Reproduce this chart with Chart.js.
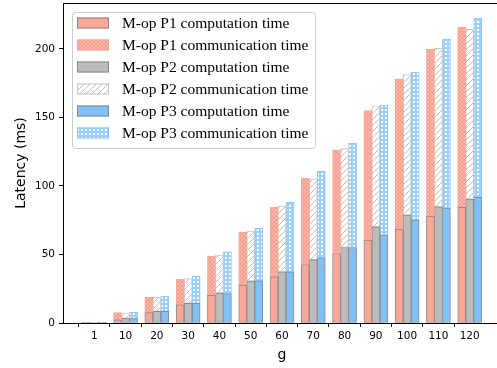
<!DOCTYPE html>
<html>
<head>
<meta charset="utf-8">
<script src="https://cdn.jsdelivr.net/npm/chart.js@4.4.1/dist/chart.umd.min.js"></script>
<style>
  html, body { margin: 0; padding: 0; background: #fff; overflow: hidden; }
  /* plot runs slightly past the right edge, as in the cropped reference */
  #wrap { width: 501px; height: 368px; }
</style>
</head>
<body>
<div id="wrap"><canvas id="latencyChart"></canvas></div>
<script>
// --- data (ms) ---
const gValues = ['1', '10', '20', '30', '40', '50', '60', '70', '80', '90', '100', '110', '120'];
const p1Comp = [0.3, 2.4, 7.6, 13.2, 20.2, 27.6, 33.6, 42.7, 50.7, 60.5, 68.5, 78.0, 84.4];
const p1Comm = [0.3, 5.2, 11.1, 18.9, 28.6, 38.7, 50.8, 63.1, 75.5, 94.5, 109.4, 121.7, 131.6];
const p2Comp = [0.2, 3.4, 8.5, 14.3, 21.9, 30.5, 37.3, 46.3, 55.1, 70.2, 78.7, 84.8, 90.4];
const p2Comm = [0.2, 4.0, 10.2, 18.1, 27.6, 36.5, 48.0, 58.7, 72.1, 88.2, 102.6, 115.7, 123.8];
const p3Comp = [0.3, 3.2, 8.5, 14.3, 21.5, 30.7, 37.3, 47.5, 55.1, 64.1, 75.1, 83.8, 91.7];
const p3Comm = [0.4, 4.8, 11.0, 19.7, 30.4, 38.3, 50.7, 63.2, 76.0, 95.0, 107.9, 123.4, 130.8];
const yTicks = [0, 50, 100, 150, 200];

// empty slot on each side of the categories (like the reference axis)
const labels = [''].concat(gValues, ['']);
const pad = arr => [null].concat(arr, [null]);

// --- hatch patterns ---
function makePattern(size, draw) {
    const c = document.createElement('canvas');
    c.width = size; c.height = size;
    const g = c.getContext('2d');
    draw(g, size);
    return g.createPattern(c, 'repeat');
}
const ctx = document.getElementById('latencyChart').getContext('2d');

const crossSalmon = makePattern(4, (g, s) => {
    g.fillStyle = '#fff'; g.fillRect(0, 0, s, s);
    g.strokeStyle = '#f99c8b'; g.lineWidth = 1.7;
    g.beginPath();
    g.moveTo(0, 0); g.lineTo(s, s);
    g.moveTo(s, 0); g.lineTo(0, s);
    g.stroke();
});
const diagGray = makePattern(6, (g, s) => {
    g.fillStyle = '#fff'; g.fillRect(0, 0, s, s);
    g.strokeStyle = '#bdbdbd'; g.lineWidth = 1;
    g.beginPath();
    g.moveTo(0, s); g.lineTo(s, 0);
    g.moveTo(-1, 1); g.lineTo(1, -1);
    g.moveTo(s - 1, s + 1); g.lineTo(s + 1, s - 1);
    g.stroke();
});
const dotsBlue = makePattern(4, (g, s) => {
    g.fillStyle = '#9ccffb'; g.fillRect(0, 0, s, s);
    g.fillStyle = '#fff'; g.fillRect(1, 1, 2, 2);
});

// --- legend drawn in a framed box inside the plot ---
const boxLegend = {
    id: 'boxLegend',
    afterDraw(chart) {
        const c = chart.ctx;
        const x0 = 72, y0 = 12, w = 243, h = 136;
        c.save();
        c.fillStyle = 'rgba(255,255,255,0.85)';
        c.strokeStyle = '#cccccc';
        c.lineWidth = 1;
        c.beginPath();
        c.roundRect(x0 + 0.5, y0 + 0.5, w, h, 3);
        c.fill(); c.stroke();
        c.font = '15.5px "Liberation Serif", "Times New Roman", serif';
        c.textBaseline = 'middle';
        chart.data.datasets.forEach((ds, i) => {
            const py = 17.5 + i * 22;
            c.fillStyle = ds.backgroundColor;
            c.fillRect(77, py, 32, 11);
            c.strokeStyle = ds.borderColor;
            c.strokeRect(77.5, py + 0.5, 31, 10);
            c.fillStyle = '#000';
            c.fillText(ds.label, 122, py + 6.5);
        });
        c.restore();
    }
};

// top spine
const topFrame = {
    id: 'topFrame',
    afterDraw(chart) {
        const a = chart.chartArea, c = chart.ctx;
        c.save();
        c.strokeStyle = '#000'; c.lineWidth = 1;
        c.beginPath();
        c.moveTo(a.left, Math.round(a.top) + 0.5);
        c.lineTo(chart.width, Math.round(a.top) + 0.5);
        c.stroke();
        c.restore();
    }
};

const compEdge = '#8a8a8a';
function bar(label, data, stack, fill, edge) {
    return { label: label, data: pad(data), stack: stack,
        backgroundColor: fill, borderColor: edge, borderWidth: 1,
        borderSkipped: false, barThickness: 8 };
}

const tickFont = { family: '"DejaVu Sans", sans-serif', size: 10.5 };
const titleFont = { family: '"DejaVu Sans", sans-serif', size: 14 };

new Chart(ctx, {
    type: 'bar',
    data: {
        labels: labels,
        datasets: [
            bar('M-op P1 computation time', p1Comp, 'P1', '#fba797', compEdge),
            bar('M-op P1 communication time', p1Comm, 'P1', crossSalmon, '#fba797'),
            bar('M-op P2 computation time', p2Comp, 'P2', '#bcbcbc', compEdge),
            bar('M-op P2 communication time', p2Comm, 'P2', diagGray, '#c6c6c6'),
            bar('M-op P3 computation time', p3Comp, 'P3', '#80c1fa', compEdge),
            bar('M-op P3 communication time', p3Comm, 'P3', dotsBlue, '#8cc8fc')
        ]
    },
    options: {
        responsive: true,
        maintainAspectRatio: false,
        animation: false,
        layout: { padding: { top: 3, right: 0, left: 0, bottom: 0 } },
        plugins: { legend: { display: false }, tooltip: { enabled: false } },
        scales: {
            x: {
                stacked: true,
                offset: false,
                grid: {
                    drawOnChartArea: false, drawTicks: true, tickLength: 4,
                    color: c => (c.tick && c.tick.label === '') ? 'rgba(0,0,0,0)' : '#000'
                },
                border: { display: true, color: '#000', width: 1 },
                ticks: { color: '#000', font: tickFont, padding: 3, maxRotation: 0, autoSkip: false },
                title: { display: true, text: 'g', color: '#000', font: titleFont, padding: { top: 0, bottom: 4 } },
                afterFit: s => { s.height = 45; s.paddingLeft = 0; s.paddingRight = 0; }
            },
            y: {
                stacked: true,
                min: 0,
                max: 233.5,
                grid: { drawOnChartArea: false, drawTicks: true, tickLength: 4, color: '#000' },
                border: { display: true, color: '#000', width: 1 },
                ticks: { color: '#000', font: tickFont, padding: 4, stepSize: 50 },
                title: { display: true, text: 'Latency (ms)', color: '#000', font: titleFont, padding: { top: 13, bottom: 0 } },
                afterBuildTicks: s => { s.ticks = yTicks.map(v => ({ value: v })); },
                afterFit: s => { s.width = 63; s.paddingTop = 0; s.paddingBottom = 0; }
            }
        }
    },
    plugins: [topFrame, boxLegend]
});
</script>
</body>
</html>
